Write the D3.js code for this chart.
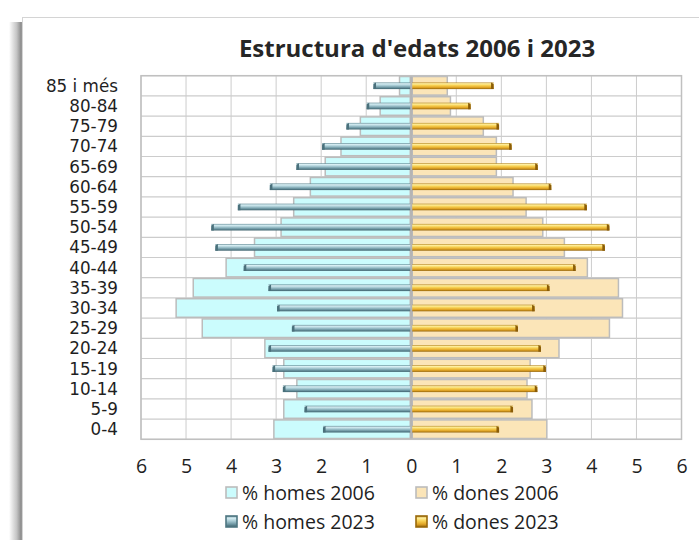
<!DOCTYPE html>
<html>
<head>
<meta charset="utf-8">
<script src="https://cdn.jsdelivr.net/npm/d3@7"></script>
<style>
  html, body { margin: 0; padding: 0; background: #fff; }
  svg { display: block; font-family: "Open Sans", "Noto Sans", sans-serif; }
</style>
</head>
<body>
<svg id="chart" width="699" height="540"></svg>
<script>
// Age groups, bottom to top
const categories = ["0-4", "5-9", "10-14", "15-19", "20-24", "25-29", "30-34", "35-39", "40-44",
  "45-49", "50-54", "55-59", "60-64", "65-69", "70-74", "75-79", "80-84", "85 i més"];

// Share of population (%) per age group
const homes2006 = [3.05, 2.83, 2.54, 2.83, 3.25, 4.64, 5.22, 4.84, 4.11, 3.48, 2.89, 2.61, 2.24, 1.91, 1.56, 1.13, 0.69, 0.26];
const dones2006 = [3.01, 2.68, 2.57, 2.64, 3.28, 4.40, 4.69, 4.60, 3.91, 3.40, 2.92, 2.55, 2.26, 1.89, 1.89, 1.60, 0.87, 0.80];
const homes2023 = [1.96, 2.37, 2.85, 3.08, 3.17, 2.65, 2.98, 3.17, 3.72, 4.35, 4.44, 3.85, 3.14, 2.55, 1.98, 1.44, 0.99, 0.84];
const dones2023 = [1.95, 2.26, 2.80, 2.99, 2.88, 2.37, 2.74, 3.07, 3.65, 4.30, 4.40, 3.90, 3.11, 2.81, 2.23, 1.95, 1.32, 1.83];

const tickValues = [-6, -5, -4, -3, -2, -1, 0, 1, 2, 3, 4, 5, 6];
const title = "Estructura d'edats 2006 i 2023";
const legendLabels = ["% homes 2006", "% dones 2006", "% homes 2023", "% dones 2023"];

const svg = d3.select("#chart");
const defs = svg.append("defs");

// Chart area frame with soft left shadow
const shadow = defs.append("linearGradient").attr("id", "shadowGrad").attr("x1", 0).attr("x2", 1).attr("y1", 0).attr("y2", 0);
shadow.append("stop").attr("offset", 0).attr("stop-color", "#ffffff");
shadow.append("stop").attr("offset", 0.55).attr("stop-color", "#c4c4c4");
shadow.append("stop").attr("offset", 0.85).attr("stop-color", "#8e8e8e");
shadow.append("stop").attr("offset", 1).attr("stop-color", "#a8a8a8");
svg.append("rect").attr("x", 9).attr("y", 22).attr("width", 14).attr("height", 540).attr("fill", "url(#shadowGrad)");
svg.append("rect").attr("x", 22.5).attr("y", 17.5).attr("width", 720).attr("height", 560)
  .attr("fill", "#fff").attr("stroke", "#d4d4d4").attr("stroke-width", 1);

// Gradients for the slim 2023 bars
function barGradient(id, stops) {
  const g = defs.append("linearGradient").attr("id", id).attr("x1", 0).attr("x2", 0).attr("y1", 0).attr("y2", 1);
  stops.forEach(([o, c]) => g.append("stop").attr("offset", o).attr("stop-color", c));
}
barGradient("homes23", [[0, "#5d8590"], [0.18, "#d8eff4"], [0.45, "#a8cbd4"], [0.75, "#6d96a2"], [1, "#3d616c"]]);
barGradient("dones23", [[0, "#b3841c"], [0.18, "#fff0a0"], [0.45, "#f7d051"], [0.75, "#e0a426"], [1, "#946409"]]);

const plot = { left: 141, right: 681.5, top: 75.7, bottom: 439.3 };

const x = d3.scaleLinear().domain([-6, 6]).range([plot.left, plot.right]);
const y = d3.scaleBand().domain(categories.slice().reverse()).range([plot.top, plot.bottom]).padding(0);
const bw = y.bandwidth();

// Title
svg.append("text").attr("x", 417).attr("y", 57).attr("text-anchor", "middle")
  .attr("font-size", 24).attr("font-weight", 700).attr("fill", "#262626").text(title);

// Grid
const grid = svg.append("g");
grid.selectAll("line.v").data(tickValues).join("line")
  .attr("x1", d => x(d)).attr("x2", d => x(d)).attr("y1", plot.top).attr("y2", plot.bottom)
  .attr("stroke", "#cccccc").attr("stroke-width", 1);
const bounds = categories.map(c => y(c)).concat([plot.bottom]);
grid.selectAll("line.h").data(bounds).join("line")
  .attr("x1", plot.left).attr("x2", plot.right).attr("y1", d => d).attr("y2", d => d)
  .attr("stroke", "#cccccc").attr("stroke-width", 1.2);

// 2006 bars (wide, pale)
const pad = 0.04;
const bars06 = svg.append("g");
bars06.selectAll("rect.h").data(categories).join("rect")
  .attr("x", (d, i) => x(-homes2006[i])).attr("width", (d, i) => x(0) - x(-homes2006[i]) - 1)
  .attr("y", d => y(d) + bw * pad).attr("height", bw * (1 - 2 * pad))
  .attr("fill", "#cbfcfd").attr("stroke", "#bcbcbc").attr("stroke-width", 1.5);
bars06.selectAll("rect.d").data(categories).join("rect")
  .attr("x", x(0) + 1).attr("width", (d, i) => x(dones2006[i]) - x(0) - 1)
  .attr("y", d => y(d) + bw * pad).attr("height", bw * (1 - 2 * pad))
  .attr("fill", "#fbe5b8").attr("stroke", "#bcbcbc").attr("stroke-width", 1.5);

// Zero axis
svg.append("line").attr("x1", x(0)).attr("x2", x(0)).attr("y1", plot.top).attr("y2", plot.bottom)
  .attr("stroke", "#b4b4b4").attr("stroke-width", 2.2);

// 2023 bars (slim, shaded, with end cap)
const th = 6.6;
const bars23 = svg.append("g");
categories.forEach((c, i) => {
  const cy = y(c) + bw / 2;
  const top = cy - th / 2;
  const xh = x(-homes2023[i]);
  bars23.append("rect").attr("x", xh).attr("y", top).attr("width", x(0) - 1 - xh).attr("height", th)
    .attr("fill", "url(#homes23)");
  bars23.append("path")
    .attr("d", `M${xh},${top + 1.5} L${xh + 2.6},${top} L${xh + 2.6},${top + th} L${xh},${top + th} Z`)
    .attr("fill", "#4a707b");
  const xd = x(dones2023[i]);
  bars23.append("rect").attr("x", x(0) + 1).attr("y", top).attr("width", xd - x(0) - 1).attr("height", th)
    .attr("fill", "url(#dones23)");
  bars23.append("path")
    .attr("d", `M${xd - 2.6},${top} L${xd},${top + 1.5} L${xd},${top + th} L${xd - 2.6},${top + th} Z`)
    .attr("fill", "#8a5c08");
});

// Plot border
svg.append("rect").attr("x", plot.left).attr("y", plot.top)
  .attr("width", plot.right - plot.left).attr("height", plot.bottom - plot.top)
  .attr("fill", "none").attr("stroke", "#c0c0c0").attr("stroke-width", 1.5);

// Category labels (compact face so the stacked rows stay clear of each other)
svg.append("g").selectAll("text").data(categories).join("text")
  .attr("x", 118).attr("y", d => y(d) + bw / 2).attr("dy", "0.36em")
  .attr("text-anchor", "end").attr("font-family", "\"DejaVu Sans\", sans-serif")
  .attr("font-size", 16.8).attr("fill", "#1f1f1f").text(d => d);

// Value axis labels (absolute values both sides)
const xAxis = d3.axisBottom(x).tickValues(tickValues).tickSize(0).tickFormat(d => Math.abs(d));
const ax = svg.append("g").attr("transform", `translate(0,${plot.bottom + 17})`).call(xAxis);
ax.select(".domain").remove();
ax.selectAll("text").attr("font-size", 19.5).attr("fill", "#1f1f1f")
  .attr("font-family", "\"Open Sans\", \"Noto Sans\", sans-serif");

// Legend
const legend = svg.append("g");
const legendItems = [
  { label: legendLabels[0], x: 226, y: 493, fill: "#cbfcfd", stroke: "#bcbcbc" },
  { label: legendLabels[1], x: 416, y: 493, fill: "#fbe5b8", stroke: "#bcbcbc" },
  { label: legendLabels[2], x: 226, y: 522, fill: "url(#homes23)", stroke: "#4f7782" },
  { label: legendLabels[3], x: 416, y: 522, fill: "url(#dones23)", stroke: "#9a6a0c" }
];
legendItems.forEach(it => {
  legend.append("rect").attr("x", it.x).attr("y", it.y - 6).attr("width", 11).attr("height", 11)
    .attr("fill", it.fill).attr("stroke", it.stroke).attr("stroke-width", 1.6);
  legend.append("text").attr("x", it.x + 16).attr("y", it.y).attr("dy", "0.35em")
    .attr("font-size", 19.5).attr("fill", "#1f1f1f").text(it.label);
});
</script>
</body>
</html>
